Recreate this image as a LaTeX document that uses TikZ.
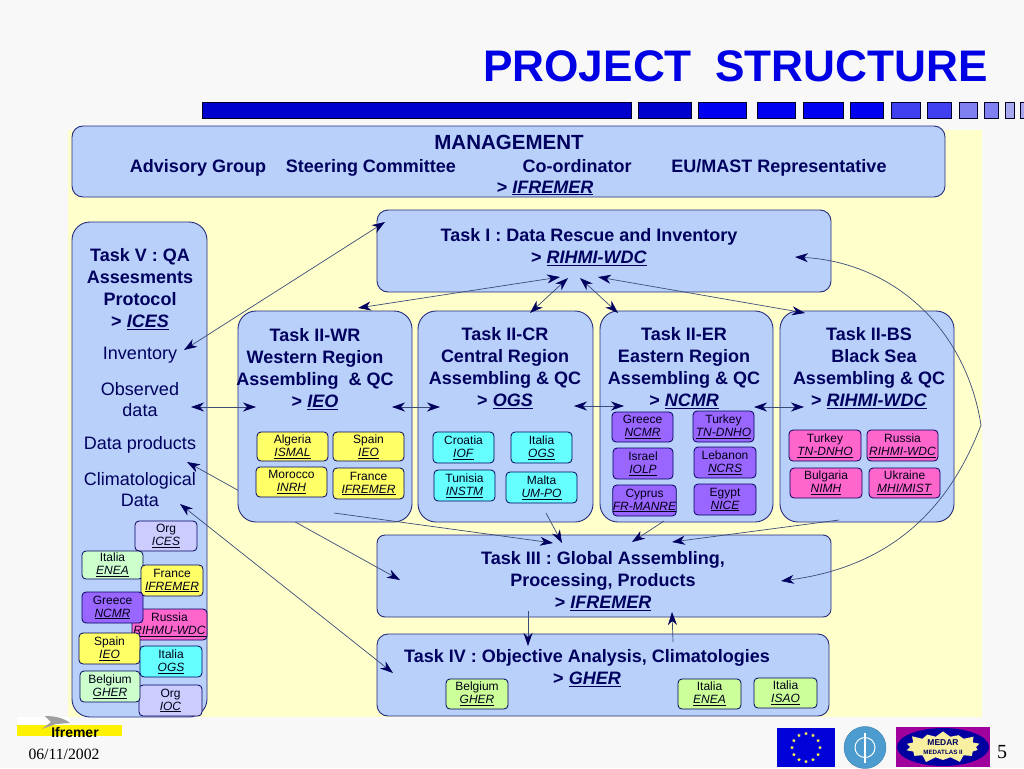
\documentclass[tikz,border=0pt]{standalone}
\usepackage{fontspec}
\setmainfont{Liberation Sans}
\newfontfamily\datefont{Liberation Serif}
\usetikzlibrary{arrows.meta,shapes.geometric,shapes.misc,shapes.symbols,calc}
\definecolor{navytext}{HTML}{00005E}
\definecolor{boxblue}{HTML}{B9D1FA}
\definecolor{paleyellow}{HTML}{FFFFCC}
\definecolor{pagegray}{HTML}{F8F8F8}
\definecolor{lineblue}{HTML}{3C4C78}
\definecolor{orgyellow}{HTML}{FFFF66}
\definecolor{orgcyan}{HTML}{66FFFF}
\definecolor{orgpurple}{HTML}{9966FF}
\definecolor{orgpink}{HTML}{FF66CC}
\definecolor{orggreen}{HTML}{CCFFCC}
\definecolor{orglime}{HTML}{CCFF99}
\definecolor{orglilac}{HTML}{CCCCFF}
\definecolor{bardark}{HTML}{0000CC}
\definecolor{barblue}{HTML}{0000F0}
\definecolor{barmid}{HTML}{4040F0}
\definecolor{barlight}{HTML}{8080F0}
\definecolor{barpale}{HTML}{A8A8F0}
\definecolor{medarpurple}{HTML}{A0009C}
\definecolor{medarblue}{HTML}{0000A0}
\definecolor{medarburst}{HTML}{F8F0A0}
\definecolor{ioclogoblue}{HTML}{4C9CD0}
\newcommand{\orglab}[2]{#1\\[-1pt]\underline{\textit{#2}}}
\newcommand{\leadlab}[1]{\underline{\textit{#1}}}
\begin{document}
\begin{tikzpicture}[
	x=1pt, y=-1pt,
	taskbox/.style={rectangle, rounded corners=11pt, draw=navytext!80!boxblue, fill=boxblue, line width=0.9pt},
	regionbox/.style={taskbox, rounded corners=18pt},
	mainlab/.style={text=navytext, font=\bfseries\fontsize{18}{22}\selectfont, align=center, inner sep=0pt},
	plainlab/.style={text=navytext, font=\fontsize{18}{21}\selectfont, align=center, inner sep=0pt},
	orgbox/.style={rectangle, rounded corners=4pt, draw=navytext, line width=0.8pt, text=black!75!navytext, font=\fontsize{12}{14}\selectfont, align=center, inner sep=0pt},
	link/.style={draw=lineblue, line width=0.7pt, {Stealth[length=13pt,width=9pt,inset=4pt,color=navytext]}-{Stealth[length=13pt,width=9pt,inset=4pt,color=navytext]}},
	onelink/.style={draw=lineblue, line width=0.7pt, -{Stealth[length=13pt,width=9pt,inset=4pt,color=navytext]}},
	barcell/.style={draw=black!60!navytext, line width=0.7pt},
	]
	
	%Page
	\fill[pagegray] (0,0) rectangle (1024,768);
	\fill[paleyellow] (68,130) rectangle (982,717);
	\path[use as bounding box] (0,0) rectangle (1024,768);
	
	%Title and bar
	\node[text=blue!90!black, font=\bfseries\fontsize{44.2}{50}\selectfont, inner sep=0pt] (title) at (735.5,66) {PROJECT\hspace{0.25em} STRUCTURE};
	\foreach \xa/\xb/\cellcol in {202/631/bardark, 638/691/bardark, 698/746/barblue, 757/795/barblue, 803/843/barblue, 850/883/barblue, 891/920/barmid, 927/951/barmid, 959/977/barlight, 984/998/barlight, 1005/1014/barpale, 1020/1026/barpale}
		\filldraw[barcell, fill=\cellcol] (\xa,102) rectangle (\xb,118);
	
	%Coordinates for the free ends
	\coordinate (toinv)  at (184,350);
	\coordinate (fromi)  at (385,222);
	\coordinate (obs)    at (191,407);
	\coordinate (wrl)    at (256,407);
	\coordinate (wrr)    at (392,407);
	\coordinate (crl)    at (440,407);
	\coordinate (crr)    at (574,406);
	\coordinate (erl)    at (624,406);
	\coordinate (err)    at (754,407);
	\coordinate (bsl)    at (804,407);
	\coordinate (prod)   at (187,462);
	\coordinate (iiil)   at (400,580);
	\coordinate (clim)   at (180,504);
	\coordinate (ivl)    at (393,673);
	\coordinate (topwr)  at (358,308);
	\coordinate (iwr)    at (560,277);
	\coordinate (topcr)  at (530,313);
	\coordinate (icr)    at (568,278);
	\coordinate (toper)  at (618,313);
	\coordinate (ier)    at (580,278);
	\coordinate (topbs)  at (805,313);
	\coordinate (ibs)    at (598,277);
	\coordinate (irt)    at (795,257);
	\coordinate (bulge)  at (981,425);
	\coordinate (iiir)   at (781,581);
	\coordinate (wrb)    at (334,513);
	\coordinate (iiia)   at (553,543);
	\coordinate (crb)    at (546,513);
	\coordinate (iiib)   at (562,543);
	\coordinate (erb)    at (664,521);
	\coordinate (iiic)   at (632,542);
	\coordinate (bsb)    at (839,520);
	\coordinate (iiid)   at (672,542);
	\coordinate (iiidn)  at (528,611);
	\coordinate (ivup)   at (528,646);
	\coordinate (ivdn)   at (673,642);
	\coordinate (iiiup)  at (672,612);
	
	%Task boxes, the western box covers the line from Data products to Task III
	\node[taskbox, minimum width=873pt, minimum height=71pt] (mgmt) at (508.5,161.5) {};
	\node[taskbox, minimum width=454pt, minimum height=82pt] (taski) at (604,251) {};
	\node[regionbox, minimum width=135pt, minimum height=495pt] (taskv) at (139.5,469.5) {};
	\node[taskbox, rounded corners=8pt, minimum width=454pt, minimum height=82pt] (taskiii) at (604,576) {};
	\node[taskbox, minimum width=452pt, minimum height=82pt] (taskiv) at (603,675) {};
	\draw[link] (prod) -- (iiil);
	\node[regionbox, minimum width=174pt, minimum height=211pt] (taskwr) at (325,416.5) {};
	\node[regionbox, minimum width=175pt, minimum height=211pt] (taskcr) at (505.5,416.5) {};
	\node[regionbox, minimum width=173pt, minimum height=211pt] (asker) at (686.5,416.5) {};
	\node[regionbox, minimum width=174pt, minimum height=211pt] (taskbs) at (867,416.5) {};
	
	%Labels
	\node[text=navytext, font=\bfseries\fontsize{20.5}{22}\selectfont, inner sep=0pt] (mgmtlab) at (509,142) {MANAGEMENT};
	\node[mainlab, anchor=base] (advisory) at (198,172) {Advisory Group};
	\node[mainlab, anchor=base] (steering) at (371,172) {Steering Committee};
	\node[mainlab, anchor=base] (coord) at (577,172) {Co-ordinator};
	\node[mainlab, anchor=base] (eumast) at (779,172) {EU/MAST Representative};
	\node[mainlab] (mgmtlead) at (545,188) {> \leadlab{IFREMER}};
	\node[mainlab] (ilab) at (589,247) {Task I : Data Rescue and Inventory\\> \leadlab{RIHMI-WDC}};
	\node[mainlab] (vlab) at (140,289) {Task V : QA\\Assesments\\Protocol\\> \leadlab{ICES}};
	\node[plainlab] (inv) at (140,355) {Inventory};
	\node[plainlab] (obsdata) at (140,399.5) {Observed\\data};
	\node[plainlab] (dataprod) at (140,445) {Data products};
	\node[plainlab] (climdata) at (140,489.5) {Climatological\\Data};
	\node[mainlab] (wrlab) at (315,369.5) {Task II-WR\\Western Region\\Assembling\ \ \& QC\\> \leadlab{IEO}};
	\node[mainlab] (crlab) at (505,368) {Task II-CR\\Central Region\\Assembling \& QC\\> \leadlab{OGS}};
	\node[mainlab] (erlab) at (684,368) {Task II-ER\\Eastern Region\\Assembling \& QC\\> \leadlab{NCMR}};
	\node[mainlab] (bslab) at (869,368) {Task II-BS\\\ \ Black Sea\\Assembling \& QC\\> \leadlab{RIHMI-WDC}};
	\node[mainlab] (iiilab) at (603,581) {Task III : Global Assembling,\\Processing, Products\\> \leadlab{IFREMER}};
	\node[mainlab] (ivlab) at (587,668.5) {Task IV : Objective Analysis, Climatologies\\> \leadlab{GHER}};
	
	%Western Region partners
	\node[orgbox, fill=orgyellow, minimum width=71pt, minimum height=29pt] (algeria) at (292.5,446.5) {\orglab{Algeria}{ISMAL}};
	\node[orgbox, fill=orgyellow, minimum width=71pt, minimum height=29pt] (spainwr) at (368.5,446.5) {\orglab{Spain}{IEO}};
	\node[orgbox, fill=orgyellow, minimum width=71pt, minimum height=30pt] (morocco) at (291.5,482) {\orglab{Morocco}{INRH}};
	\node[orgbox, fill=orgyellow, minimum width=71pt, minimum height=31pt] (francewr) at (368.5,483.5) {\orglab{France}{IFREMER}};
	
	%Central Region partners
	\node[orgbox, fill=orgcyan, minimum width=61pt, minimum height=31pt] (croatia) at (463.5,447.5) {\orglab{Croatia}{IOF}};
	\node[orgbox, fill=orgcyan, minimum width=61pt, minimum height=31pt] (italiacr) at (541.5,447.5) {\orglab{Italia}{OGS}};
	\node[orgbox, fill=orgcyan, minimum width=61pt, minimum height=31pt] (tunisia) at (464.5,485.5) {\orglab{Tunisia}{INSTM}};
	\node[orgbox, fill=orgcyan, minimum width=71pt, minimum height=31pt] (malta) at (541.5,487.5) {\orglab{Malta}{UM-PO}};
	
	%Eastern Region partners
	\node[orgbox, fill=orgpurple, minimum width=61pt, minimum height=30pt] (greeceer) at (642.5,427) {\orglab{Greece}{NCMR}};
	\node[orgbox, fill=orgpurple, minimum width=61pt, minimum height=31pt] (turkeyer) at (723.5,426.5) {\orglab{Turkey}{TN-DNHO}};
	\node[orgbox, fill=orgpurple, minimum width=60pt, minimum height=31pt] (israel) at (643,463.5) {\orglab{Israel}{IOLP}};
	\node[orgbox, fill=orgpurple, minimum width=62pt, minimum height=31pt] (lebanon) at (725,462.5) {\orglab{Lebanon}{NCRS}};
	\node[orgbox, fill=orgpurple, minimum width=63pt, minimum height=31pt] (cyprus) at (644.5,500.5) {\orglab{Cyprus}{FR-MANRE}};
	\node[orgbox, fill=orgpurple, minimum width=62pt, minimum height=31pt] (egypt) at (725,499.5) {\orglab{Egypt}{NICE}};
	
	%Black Sea partners
	\node[orgbox, fill=orgpink, minimum width=72pt, minimum height=31pt] (turkeybs) at (825,445.5) {\orglab{Turkey}{TN-DNHO}};
	\node[orgbox, fill=orgpink, minimum width=71pt, minimum height=31pt] (russiabs) at (902.5,445.5) {\orglab{Russia}{RIHMI-WDC}};
	\node[orgbox, fill=orgpink, minimum width=72pt, minimum height=30pt] (bulgaria) at (826,483) {\orglab{Bulgaria}{NIMH}};
	\node[orgbox, fill=orgpink, minimum width=71pt, minimum height=30pt] (ukraine) at (904.5,483) {\orglab{Ukraine}{MHI/MIST}};
	
	%Task V partners
	\node[orgbox, fill=orglilac, minimum width=62pt, minimum height=30pt] (orgices) at (166,536) {\orglab{Org}{ICES}};
	\node[orgbox, fill=orggreen, minimum width=61pt, minimum height=28pt] (italiav) at (112.5,565) {\orglab{Italia}{ENEA}};
	\node[orgbox, fill=orgyellow, minimum width=62pt, minimum height=31pt] (francev) at (172,580.5) {\orglab{France}{IFREMER}};
	\node[orgbox, fill=orgpink, minimum width=75pt, minimum height=31pt] (russiav) at (169.5,624.5) {\orglab{Russia}{RIHMU-WDC}};
	\node[orgbox, fill=orgpurple, minimum width=61pt, minimum height=31pt] (greecev) at (112.5,607.5) {\orglab{Greece}{NCMR}};
	\node[orgbox, fill=orgyellow, minimum width=61pt, minimum height=31pt] (spainv) at (109.5,648.5) {\orglab{Spain}{IEO}};
	\node[orgbox, fill=orgcyan, minimum width=62pt, minimum height=31pt] (italiaog) at (171,661.5) {\orglab{Italia}{OGS}};
	\node[orgbox, fill=orglilac, minimum width=63pt, minimum height=31pt] (orgioc) at (170.5,700.5) {\orglab{Org}{IOC}};
	\node[orgbox, fill=orggreen, minimum width=60pt, minimum height=31pt] (belgiumv) at (110,686.5) {\orglab{Belgium}{GHER}};
	
	%Task IV partners
	\node[orgbox, fill=orglime, minimum width=62pt, minimum height=30pt] (belgiumiv) at (477,694) {\orglab{Belgium}{GHER}};
	\node[orgbox, fill=orglime, minimum width=63pt, minimum height=30pt] (italiaen) at (709.5,694) {\orglab{Italia}{ENEA}};
	\node[orgbox, fill=orglime, minimum width=63pt, minimum height=30pt] (italiais) at (785.5,693) {\orglab{Italia}{ISAO}};
	
	%Lines
	\draw[link] (toinv) -- (fromi);
	\draw[link] (obs) -- (wrl);
	\draw[link] (wrr) -- (crl);
	\draw[link] (crr) -- (erl);
	\draw[link] (err) -- (bsl);
	\draw[link] (clim) -- (ivl);
	\draw[link] (topwr) -- (iwr);
	\draw[link] (topcr) -- (icr);
	\draw[link] (toper) -- (ier);
	\draw[link] (topbs) -- (ibs);
	\draw[onelink] (bulge) .. controls (965,325) and (890,262) .. (irt);
	\draw[onelink] (bulge) .. controls (945,520) and (880,568) .. (iiir);
	\draw[onelink] (wrb) -- (iiia);
	\draw[onelink] (crb) -- (iiib);
	\draw[onelink] (erb) -- (iiic);
	\draw[onelink] (bsb) -- (iiid);
	\draw[onelink] (iiidn) -- (ivup);
	\draw[onelink] (ivdn) -- (iiiup);
	
	%Footer
	\fill[white] (17,717) rectangle (70,725);
	\fill[yellow] (17,725) rectangle (122,736);
	\fill[gray!75] (42,729) -- (51,722) -- (45,716) .. controls (55,716) and (64,718) .. (70,723) -- (56,724) -- cycle;
	\node[font=\bfseries\fontsize{14}{16}\selectfont, inner sep=0pt] (ifremer) at (75,732) {Ifremer};
	\node[font=\datefont\fontsize{15.7}{18}\selectfont, inner sep=0pt] (datelab) at (64,754) {06/11/2002};
	\node[font=\datefont\fontsize{20}{22}\selectfont, inner sep=0pt] (pagenum) at (1002,752) {5};
	
	%Flag
	\node[rectangle, fill=blue!85!black, minimum width=58pt, minimum height=39pt, inner sep=0pt] (euflag) at (806,747.5) {};
	\foreach \a in {0,30,...,330}
		\node[star, star points=5, star point ratio=2.2, fill=yellow!70!white, minimum size=4pt, inner sep=0pt] (eustar\a) at ($(euflag)+(\a:14pt and 14pt)$) {};
	
	%Round logo
	\node[circle, fill=ioclogoblue, draw=ioclogoblue!80!black, minimum size=42pt, inner sep=0pt] (ioclogo) at (865,747.5) {};
	\draw[white, line width=1pt] (ioclogo.center) circle (10pt);
	\draw[white, line width=1.2pt] ($(ioclogo.center)+(0,-15)$) -- ($(ioclogo.center)+(0,15)$);
	
	%Medar logo
	\node[rectangle, fill=medarpurple, minimum width=94pt, minimum height=40pt, inner sep=0pt] (medarback) at (943,747) {};
	\node[ellipse, fill=medarblue, minimum width=92pt, minimum height=38pt, inner sep=0pt] (medarring) at (943,747) {};
	\node[starburst, starburst points=14, starburst point height=7pt, fill=medarburst, minimum width=80pt, minimum height=32pt, inner sep=0pt, text=navytext, align=center, font=\bfseries\fontsize{8.5}{10}\selectfont] (medar) at (943,747) {MEDAR\\[-1pt]{\fontsize{6.2}{8}\selectfont MEDATLAS II}};
	
	\end{tikzpicture}
\end{document}
